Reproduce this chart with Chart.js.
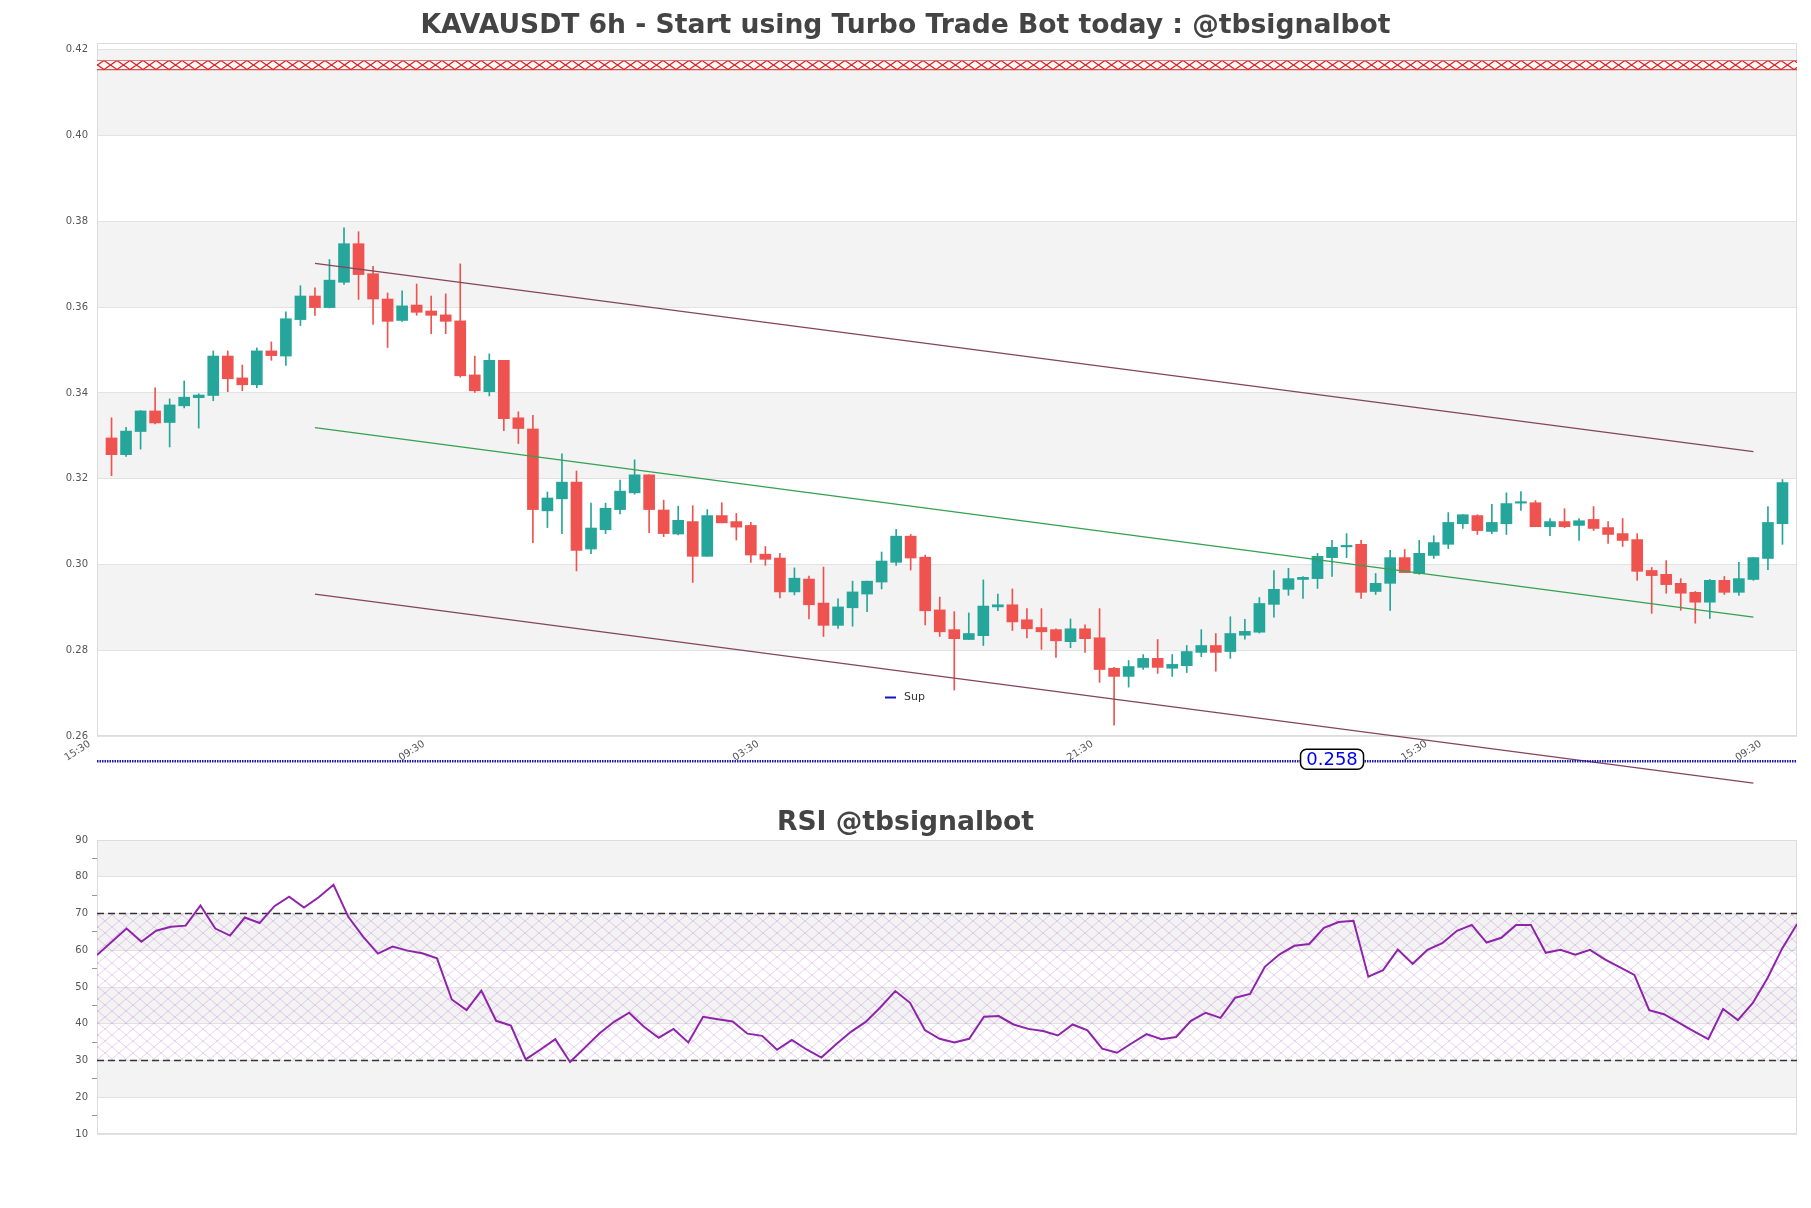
<!DOCTYPE html>
<html><head><meta charset="utf-8">
<script src="https://cdn.jsdelivr.net/npm/chart.js@4.4.0/dist/chart.umd.min.js"></script>
<style>
html,body{margin:0;padding:0;background:#fff;width:1811px;height:1208px;overflow:hidden}
#c1{position:absolute;left:0;top:0}
#c2{position:absolute;left:0;top:795px}
</style></head><body>
<canvas id="c1" width="1811" height="800"></canvas>
<canvas id="c2" width="1811" height="413"></canvas>
<script>
// ---------------- data ----------------
const candleOpen = [.3295,.3256,.3310,.3358,.3331,.3370,.3389,.3394,.3486,.3435,
 .3419,.3498,.3486,.3571,.3626,.3599,.3658,.3748,.3678,.3619,
 .3569,.3605,.3591,.3582,.3568,.3442,.3403,.3476,.3342,.3316,
 .3125,.3153,.3192,.3036,.3081,.3128,.3167,.3209,.3127,.3071,
 .3100,.3019,.3114,.3100,.3091,.3024,.3015,.2936,.2966,.2910,
 .2858,.2899,.2931,.2959,.3005,.3066,.3017,.2894,.2848,.2825,
 .2834,.2901,.2906,.2871,.2853,.2848,.2820,.2850,.2829,.2758,
 .2739,.2760,.2781,.2758,.2764,.2795,.2811,.2797,.2835,.2842,
 .2907,.2942,.2965,.2967,.3016,.3041,.3047,.2937,.2956,.3016,
 .2979,.3021,.3047,.3095,.3114,.3077,.3095,.3143,.3144,.3088,
 .3100,.3091,.3105,.3086,.3072,.3058,.2986,.2977,.2956,.2935,
 .2912,.2963,.2935,.2965,.3014,.3095];
const candleHigh = [.3342,.3320,.3359,.3412,.3386,.3428,.3398,.3498,.3498,.3465,
 .3505,.3519,.3589,.3650,.3645,.3711,.3785,.3776,.3695,.3633,
 .3638,.3654,.3626,.3631,.3701,.3486,.3491,.3476,.3356,.3348,
 .3169,.3258,.3218,.3143,.3143,.3197,.3244,.3209,.3150,.3136,
 .3137,.3128,.3144,.3119,.3098,.3042,.3026,.2992,.2973,.2994,
 .2920,.2961,.2961,.3029,.3082,.3070,.3022,.2924,.2890,.2887,
 .2964,.2931,.2943,.2897,.2897,.2850,.2873,.2859,.2897,.2760,
 .2776,.2790,.2825,.2790,.2811,.2848,.2839,.2878,.2872,.2923,
 .2986,.2991,.2972,.3026,.3056,.3072,.3056,.2979,.3033,.3035,
 .3056,.3067,.3121,.3116,.3116,.3140,.3167,.3170,.3149,.3107,
 .3130,.3107,.3135,.3100,.3107,.3072,.2993,.3009,.2967,.2937,
 .2965,.2972,.3005,.3016,.3135,.3198];
const candleLow = [.3207,.3252,.3269,.3328,.3274,.3365,.3318,.3382,.3403,.3405,
 .3412,.3476,.3464,.3557,.3581,.3598,.3653,.3618,.3560,.3506,
 .3567,.3581,.3538,.3538,.3437,.3401,.3393,.3312,.3282,.3051,
 .3086,.3072,.2985,.3025,.3072,.3118,.3164,.3074,.3065,.3069,
 .2958,.3019,.3097,.3057,.3005,.2998,.2922,.2929,.2873,.2832,
 .2851,.2856,.2890,.2943,.2998,.2987,.2859,.2832,.2707,.2825,
 .2811,.2892,.2846,.2829,.2802,.2783,.2806,.2795,.2725,.2625,
 .2714,.2755,.2746,.2739,.2748,.2785,.2751,.2781,.2826,.2840,
 .2877,.2928,.2921,.2944,.2972,.3016,.2921,.2930,.2893,.2981,
 .2977,.3014,.3037,.3084,.3070,.3072,.3070,.3126,.3088,.3067,
 .3086,.3056,.3079,.3049,.3042,.2963,.2886,.2933,.2893,.2863,
 .2874,.2930,.2928,.2963,.2988,.3047];
const candleClose = [.3256,.3311,.3358,.3330,.3372,.3390,.3395,.3486,.3433,.3419,
 .3498,.3487,.3573,.3626,.3599,.3663,.3748,.3676,.3619,.3567,
 .3603,.3588,.3581,.3567,.3440,.3405,.3476,.3340,.3317,.3128,
 .3155,.3192,.3033,.3085,.3131,.3171,.3209,.3128,.3072,.3103,
 .3019,.3114,.3097,.3087,.3022,.3012,.2936,.2968,.2906,.2858,
 .2901,.2936,.2961,.3008,.3066,.3015,.2892,.2843,.2827,.2839,
 .2903,.2906,.2866,.2850,.2843,.2822,.2850,.2827,.2755,.2739,
 .2762,.2781,.2760,.2767,.2797,.2811,.2795,.2839,.2844,.2909,
 .2942,.2967,.2970,.3019,.3040,.3044,.2935,.2956,.3016,.2981,
 .3026,.3051,.3098,.3116,.3079,.3098,.3142,.3144,.3088,.3100,
 .3088,.3102,.3084,.3070,.3056,.2984,.2974,.2953,.2933,.2912,
 .2963,.2935,.2967,.3016,.3098,.3191];
const rsiValues = [58.7,62.3,65.9,62.3,65.3,66.4,66.7,72.2,65.9,64.0,
 68.9,67.4,72.0,74.6,71.6,74.4,77.8,69.1,63.7,59.1,
 61.0,59.9,59.2,57.8,46.6,43.7,49.0,40.8,39.5,30.3,
 33.0,35.8,29.6,33.5,37.4,40.6,43.0,39.2,36.2,38.6,
 34.9,41.9,41.2,40.6,37.3,36.7,32.9,35.6,33.0,30.8,
 34.4,37.8,40.5,44.5,48.9,45.7,38.3,35.9,34.9,35.9,
 41.9,42.1,39.8,38.6,38.0,36.8,39.8,38.2,33.2,32.1,
 34.7,37.2,35.8,36.4,40.8,43.0,41.6,47.1,48.1,55.5,
 58.9,61.2,61.7,66.1,67.7,68.0,52.8,54.6,60.2,56.3,
 60.1,61.9,65.3,66.9,62.1,63.4,66.9,66.9,59.3,60.1,
 58.8,60.1,57.5,55.4,53.3,43.7,42.6,40.3,38.0,35.8,
 44.0,41.0,45.6,52.4,60.5,67.1];
const xTickIndex = [-1.5, 21.5, 44.5, 67.5, 90.5, 113.5];
const xTickLabels = ['15:30','09:30','03:30','21:30','15:30','09:30'];
const priceTicks = [0.26,0.28,0.30,0.32,0.34,0.36,0.38,0.40,0.42];
const rsiTicks = [10,20,30,40,50,60,70,80,90];
const channelIdx = [14, 113];
const upperChannel = [0.3702, 0.3263];
const midChannel = [0.3319, 0.2877];
const lowerChannel = [0.2931, 0.2490];
const resLevel = 0.4164;
const supLevel = 0.2541;
const supLabel = '0.258';
const rsiOverbought = 70, rsiOversold = 30;
const mainTitle = 'KAVAUSDT 6h - Start using Turbo Trade Bot today : @tbsignalbot';
const rsiTitle = 'RSI @tbsignalbot';

// ---------------- helpers ----------------
const UP = '#26a69a', DOWN = '#ef5350';
const FONT = 'DejaVu Sans';
const N = candleOpen.length;
const idx = candleOpen.map((_, i) => i);
const candleColors = idx.map(i => candleClose[i] >= candleOpen[i] ? UP : DOWN);

function grayBands(ticks) {
  const d = ticks.slice().sort((a, b) => b - a);
  const out = [];
  for (let k = 0; k + 1 < d.length; k += 2) out.push([d[k + 1], d[k]]);
  return out;
}

const panelPlugin = {
  id: 'panel',
  beforeDraw(chart, args, o) {
    const {ctx, chartArea: a, scales: {y}} = chart;
    ctx.save();
    ctx.fillStyle = o.bandColor;
    for (const [lo, hi] of o.bands) {
      const y1 = y.getPixelForValue(hi), y2 = y.getPixelForValue(lo);
      ctx.fillRect(a.left, y1, a.right - a.left, y2 - y1);
    }
    ctx.restore();
  },
  beforeDatasetsDraw(chart, args, o) {
    const {ctx, chartArea: a} = chart;
    ctx.save();
    ctx.strokeStyle = o.borderColor; ctx.lineWidth = 1;
    ctx.strokeRect(a.left + 0.5, a.top + 0.5, a.right - a.left - 1, a.bottom - a.top - 1);
    ctx.restore();
  }
};

const extrasPlugin = {
  id: 'extras',
  afterDraw(chart) {
    const {ctx, scales: {x, y}} = chart;
    ctx.save();
    // legend "Sup"
    ctx.strokeStyle = '#1515c8'; ctx.lineWidth = 2;
    ctx.beginPath(); ctx.moveTo(885, 697.5); ctx.lineTo(896, 697.5); ctx.stroke();
    ctx.fillStyle = '#333'; ctx.font = '11px ' + FONT; ctx.textBaseline = 'middle'; ctx.textAlign = 'left';
    ctx.fillText('Sup', 904, 697);
    // support value label
    const cx = x.getPixelForValue(84), cy = y.getPixelForValue(supLevel) - 2;
    const w = 63, h = 20;
    ctx.beginPath();
    ctx.roundRect(cx - w / 2, cy - h / 2, w, h, 6);
    ctx.fillStyle = '#fff'; ctx.fill();
    ctx.strokeStyle = '#000'; ctx.lineWidth = 1.5; ctx.stroke();
    ctx.fillStyle = '#0000ee'; ctx.font = '18px ' + FONT; ctx.textAlign = 'center'; ctx.textBaseline = 'middle';
    ctx.fillText(supLabel, cx, cy + 1);
    ctx.restore();
  }
};

// patterns
const ctx1 = document.getElementById('c1').getContext('2d');
const ctx2 = document.getElementById('c2').getContext('2d');
function resPattern() {
  const c = document.createElement('canvas'); c.width = 13; c.height = 10;
  const g = c.getContext('2d');
  g.fillStyle = '#fff8f8'; g.fillRect(0, 0, 13, 10);
  g.lineWidth = 1;
  g.strokeStyle = 'rgba(214,40,40,0.8)';
  g.beginPath();
  g.moveTo(0, 0.5); g.lineTo(13, 0.5);
  g.moveTo(0, 9.5); g.lineTo(13, 9.5);
  g.stroke();
  g.lineWidth = 1.3;
  g.strokeStyle = '#d62828';
  g.beginPath();
  g.moveTo(0, 0.5); g.lineTo(13, 9.5);
  g.moveTo(13, 0.5); g.lineTo(0, 9.5);
  g.stroke();
  return ctx1.createPattern(c, 'repeat');
}
function latticePattern() {
  const c = document.createElement('canvas'); c.width = 14; c.height = 12;
  const g = c.getContext('2d');
  g.strokeStyle = 'rgba(180,110,205,0.40)'; g.lineWidth = 0.8;
  g.beginPath();
  g.moveTo(0, 0); g.lineTo(14, 12);
  g.moveTo(14, 0); g.lineTo(0, 12);
  g.stroke();
  return ctx2.createPattern(c, 'repeat');
}

const lineSeg = (ys) => [{x: channelIdx[0], y: ys[0]}, {x: channelIdx[1], y: ys[1]}];
// empty right-hand spacer axis so the plot ends 14px before the canvas edge while titles stay centred on the canvas
const spacerAxis = {position: 'right', display: true, grid: {display: false, drawTicks: false},
  ticks: {display: false}, border: {display: false}, afterFit: s => { s.width = 14; }};

// ---------------- main chart ----------------
new Chart(ctx1, {
  type: 'bar',
  data: {
    datasets: [
      {
        label: 'wick', type: 'bar', order: 5, grouped: false, barThickness: 1,
        data: idx.map(i => ({x: i, y: [candleLow[i], candleHigh[i]]})),
        backgroundColor: candleColors, borderWidth: 0
      },
      {
        label: 'body', type: 'bar', order: 4, grouped: false, barThickness: 11, minBarLength: 1.5,
        data: idx.map(i => ({x: i, y: [candleOpen[i], candleClose[i]]})),
        backgroundColor: candleColors, borderWidth: 0
      },
      { label: 'upper', type: 'line', order: 1, clip: false, data: lineSeg(upperChannel),
        borderColor: '#84445e', borderWidth: 1.2, pointRadius: 0, fill: false },
      { label: 'mid', type: 'line', order: 1, clip: false, data: lineSeg(midChannel),
        borderColor: '#34a050', borderWidth: 1.2, pointRadius: 0, fill: false },
      { label: 'lower', type: 'line', order: 1, clip: false, data: lineSeg(lowerChannel),
        borderColor: '#84445e', borderWidth: 1.2, pointRadius: 0, fill: false },
      { label: 'Res', type: 'line', order: 0, data: [{x: -1, y: resLevel}, {x: N, y: resLevel}],
        borderColor: resPattern(), borderWidth: 10, borderCapStyle: 'butt', pointRadius: 0, fill: false },
      { label: 'Sup', type: 'line', order: 0, clip: false, data: [{x: -1, y: supLevel}, {x: N, y: supLevel}],
        borderColor: '#1a1ab0', borderWidth: 2.5, borderDash: [1.5, 1], borderCapStyle: 'butt', pointRadius: 0, fill: false }
    ]
  },
  options: {
    responsive: false, animation: false, devicePixelRatio: 1,
    layout: {padding: 0},
    plugins: {
      legend: {display: false}, tooltip: {enabled: false},
      title: {display: true, text: mainTitle, color: '#444',
        font: {family: FONT, size: 26.6, weight: 'bold', lineHeight: 1}, padding: {top: 12.8, bottom: 3.6}},
      panel: {bands: grayBands(priceTicks), bandColor: '#f3f3f3', borderColor: '#dcdcdc'}
    },
    scales: {
      x: {
        type: 'linear', min: -1, max: N, offset: false,
        grid: {display: false, drawTicks: false}, border: {display: false},
        afterBuildTicks: s => { s.ticks = xTickIndex.map(v => ({value: v})); },
        afterFit: s => { s.height = 64; },
        ticks: {autoSkip: false, minRotation: 33, maxRotation: 33, padding: 2,
          color: '#555', font: {family: FONT, size: 10},
          callback: (v, i) => xTickLabels[i]}
      },
      y: {
        type: 'linear', min: 0.26, max: 0.4216,
        grid: {color: '#e2e2e2', drawTicks: false}, border: {display: false},
        afterBuildTicks: s => { s.ticks = priceTicks.map(v => ({value: v})); },
        afterFit: s => { s.width = 97; },
        ticks: {padding: 9, color: '#555', font: {family: FONT, size: 10},
          callback: v => v.toFixed(2)}
      },
      yRight: spacerAxis
    }
  },
  plugins: [panelPlugin, extrasPlugin]
});

// ---------------- RSI chart ----------------
new Chart(ctx2, {
  type: 'line',
  data: {
    datasets: [
      { label: 'RSI', order: 0, data: idx.map(i => ({x: i, y: rsiValues[i]})),
        borderColor: '#8e24aa', borderWidth: 2, pointRadius: 0, fill: false, tension: 0 },
      { label: 'ob', order: 1, data: [{x: 0, y: rsiOverbought}, {x: N - 1, y: rsiOverbought}],
        borderColor: '#333', borderWidth: 1.5, borderDash: [7, 4], pointRadius: 0,
        fill: '+1', backgroundColor: latticePattern() },
      { label: 'os', order: 1, data: [{x: 0, y: rsiOversold}, {x: N - 1, y: rsiOversold}],
        borderColor: '#333', borderWidth: 1.5, borderDash: [7, 4], pointRadius: 0, fill: false }
    ]
  },
  options: {
    responsive: false, animation: false, devicePixelRatio: 1,
    layout: {padding: {left: 0, right: 0, top: 0, bottom: 74}},
    plugins: {
      legend: {display: false}, tooltip: {enabled: false},
      title: {display: true, text: rsiTitle, color: '#444',
        font: {family: FONT, size: 26.6, weight: 'bold', lineHeight: 1}, padding: {top: 14.7, bottom: 3.7}},
      panel: {bands: grayBands(rsiTicks), bandColor: '#f3f3f3', borderColor: '#dcdcdc'}
    },
    scales: {
      x: {type: 'linear', min: 0, max: N - 1, display: false},
      y: {
        type: 'linear', min: 10, max: 90,
        afterBuildTicks: s => {
          const t = [];
          for (let k = 0; k < rsiTicks.length; k++) {
            t.push({value: rsiTicks[k]});
            if (k + 1 < rsiTicks.length) t.push({value: (rsiTicks[k] + rsiTicks[k + 1]) / 2});
          }
          s.ticks = t;
        },
        afterFit: s => { s.width = 97; },
        grid: {
          color: c => rsiTicks.includes(c.tick.value) ? '#e2e2e2' : 'rgba(0,0,0,0)',
          tickColor: c => rsiTicks.includes(c.tick.value) ? 'rgba(0,0,0,0)' : '#999',
          tickLength: 5, drawTicks: true
        },
        border: {display: false},
        ticks: {padding: 4, color: '#555', font: {family: FONT, size: 10},
          callback: v => rsiTicks.includes(v) ? String(v) : ''}
      },
      yRight: spacerAxis
    }
  },
  plugins: [panelPlugin]
});
</script>
</body></html>
